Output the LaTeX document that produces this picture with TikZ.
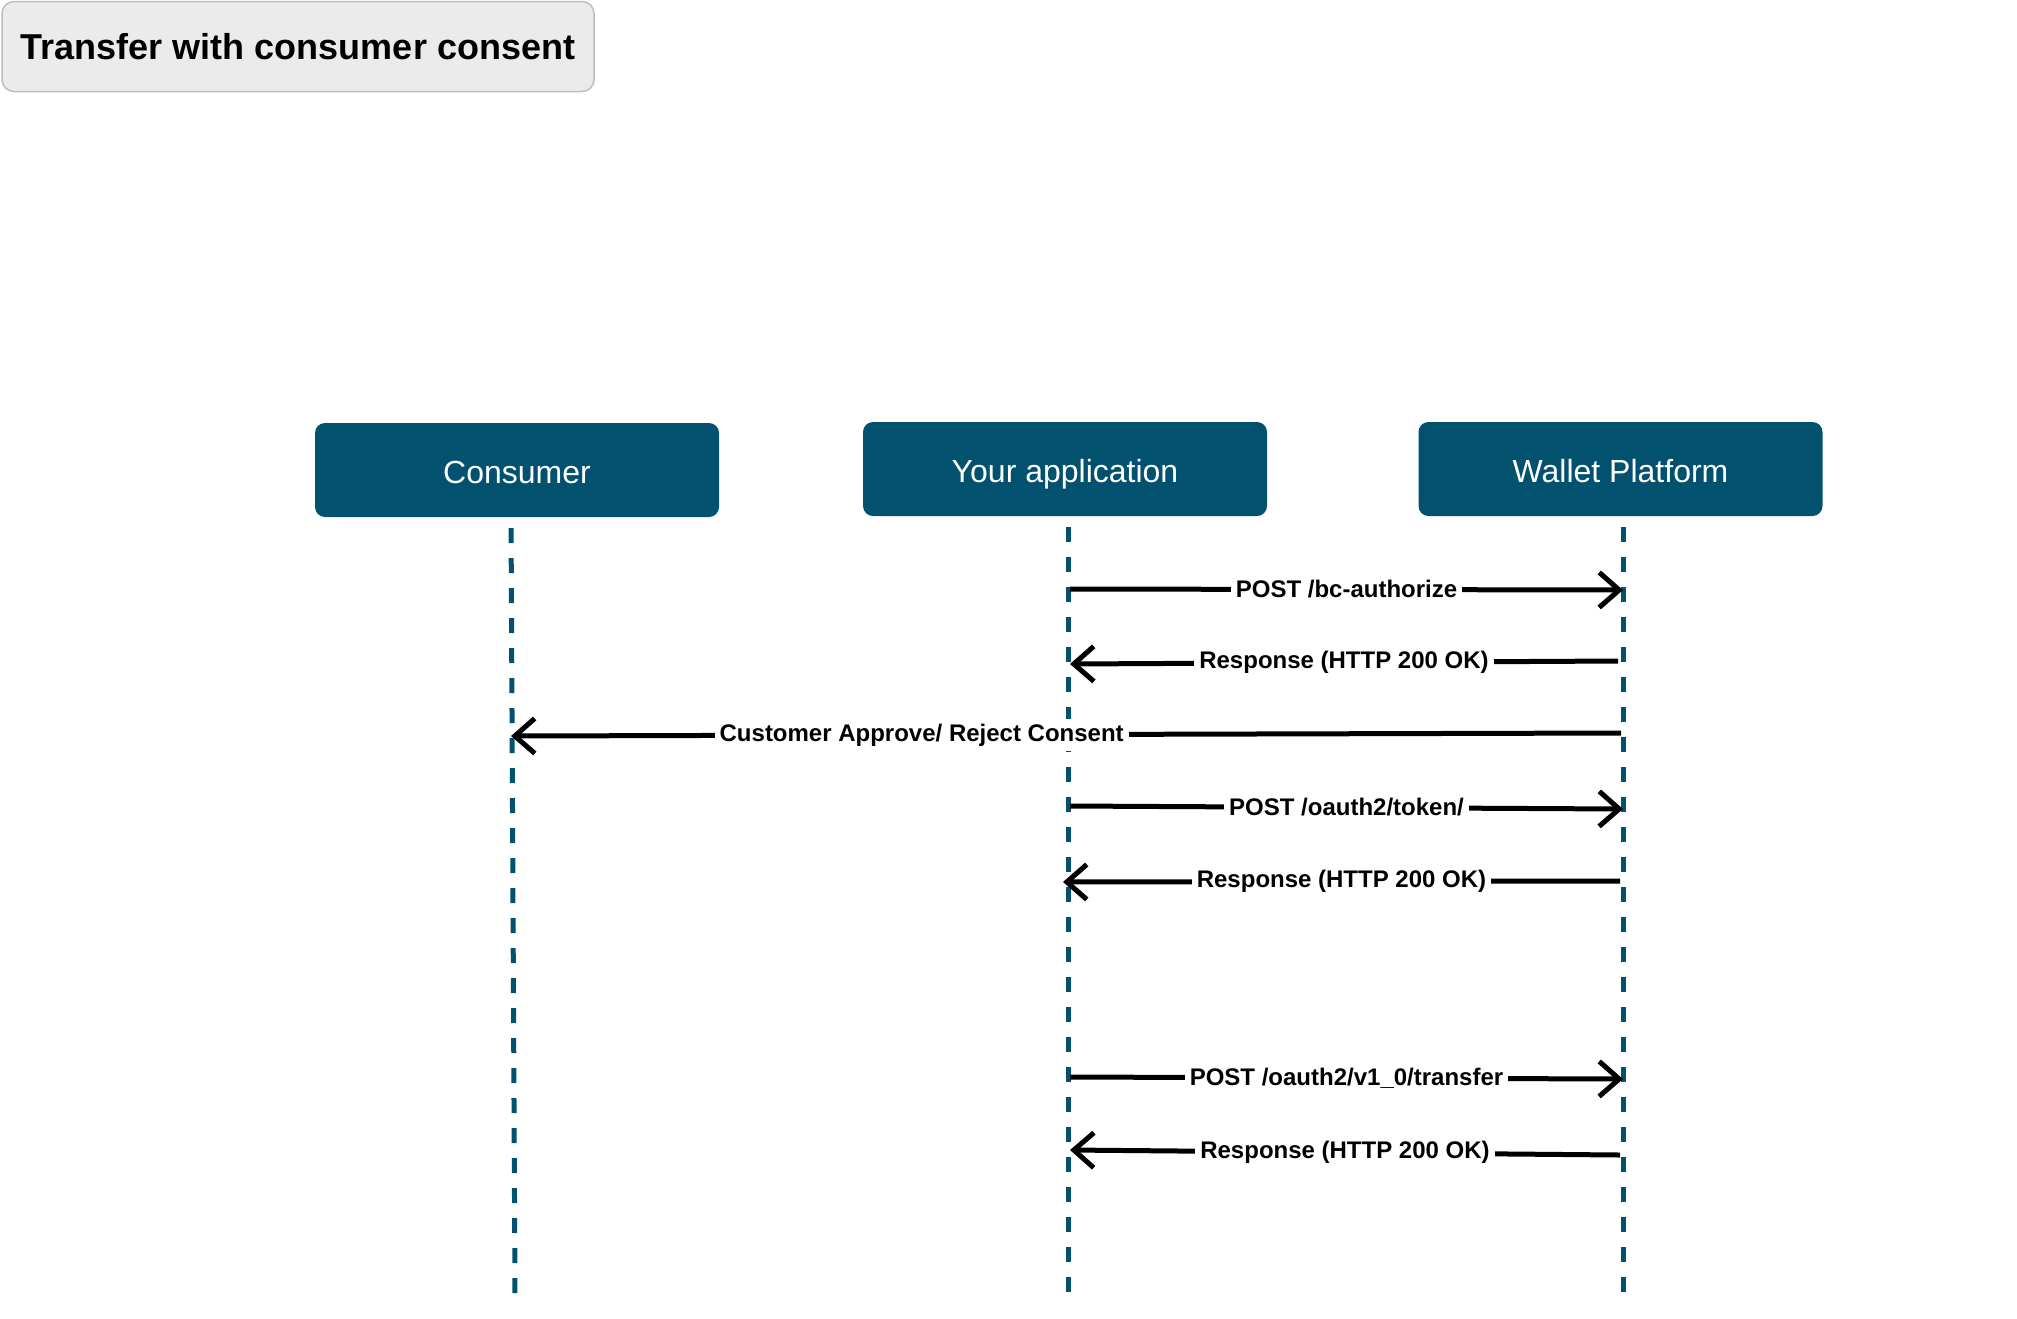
\documentclass[tikz,border=0pt]{standalone}
\usepackage{fontspec}
\setmainfont{Liberation Sans}
\usetikzlibrary{arrows.meta}
\definecolor{lanecol}{HTML}{02516F}
\definecolor{titlefill}{HTML}{EBEBEB}
\definecolor{titleline}{HTML}{BDBDBD}

\tikzset{
  party/.style={fill=lanecol, rounded corners=5pt, text=white, minimum width=202pt,
    minimum height=47pt, text height=14pt, text depth=1pt, font=\fontsize{16}{19}\selectfont},
  life/.style={draw=lanecol, line width=2.5pt, dash pattern=on 7.5pt off 7.5pt, dash phase=9.5pt},
  msg/.style={line width=2.5pt, -{Straight Barb[length=10pt,width=17.5pt]}},
  lbl/.style={fill=white, inner sep=2.5pt, font=\bfseries\fontsize{12}{14}\selectfont},
}

\begin{document}
\begin{tikzpicture}[x=0.5pt, y=-0.5pt]
        \useasboundingbox (0,0) rectangle (2017,1318);
        \node[draw=titleline, fill=titlefill, rounded corners=6pt, line width=0.75pt,
              minimum width=296pt, minimum height=45pt,
              font=\bfseries\fontsize{18}{22}\selectfont] (title) at (298,46.5) {Transfer with consumer consent};

        \node[party] (cons) at (517,470) {Consumer};
        \node[party] (app) at (1065,469) {Your application};
        \node[party] (wal) at (1620.5,469) {Wallet Platform};

        \coordinate (consTop) at (511,517);
        \coordinate (consEnd) at (515,1296);
        \coordinate (appTop) at (1068,516);
        \coordinate (appEnd) at (1068,1296);
        \coordinate (walTop) at (1623,516);
        \coordinate (walEnd) at (1623,1296);
        \draw[life] (consTop) -- (consEnd);
        \draw[life] (appTop) -- (appEnd);
        \draw[life] (walTop) -- (walEnd);

        \coordinate (a1) at (1070,589);
        \coordinate (w1) at (1623,590);
        \coordinate (w2) at (1618,661);
        \coordinate (a2) at (1070,664);
        \coordinate (w3) at (1621,733);
        \coordinate (c3) at (511,736);
        \coordinate (a4) at (1070,806);
        \coordinate (w4) at (1623,809);
        \coordinate (w5) at (1620,881);
        \coordinate (a5) at (1063,882);
        \coordinate (a6) at (1070,1077);
        \coordinate (w6) at (1623,1079);
        \coordinate (w7) at (1620,1155);
        \coordinate (a7) at (1070,1150);

        \draw[msg] (a1) -- node[lbl] {POST /bc-authorize} (w1);
        \draw[msg] (w2) -- node[lbl] {Response (HTTP 200 OK)} (a2);
        \draw[msg] (w3) -- node[lbl, pos=0.63] {Customer Approve/ Reject Consent} (c3);
        \draw[msg] (a4) -- node[lbl] {POST /oauth2/token/} (w4);
        \draw[msg] (w5) -- node[lbl] {Response (HTTP 200 OK)} (a5);
        \draw[msg] (a6) -- node[lbl] {POST /oauth2/v1\_0/transfer} (w6);
        \draw[msg] (w7) -- node[lbl] {Response (HTTP 200 OK)} (a7);
\end{tikzpicture}
\end{document}
